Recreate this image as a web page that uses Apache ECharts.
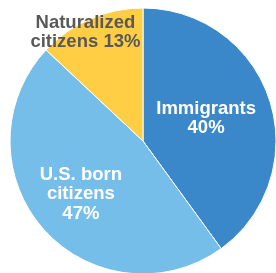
<!DOCTYPE html>
<html><head><meta charset="utf-8">
<script src="https://cdn.jsdelivr.net/npm/echarts@6/dist/echarts.min.js"></script>
<style>html,body{margin:0;padding:0;background:#fff}#c{width:276px;height:273px}</style>
</head><body><div id="c"></div>
<script>
const categories = ['Immigrants', 'U.S. born\ncitizens', 'Naturalized\ncitizens'];
const values = [40, 47, 13];
const colors = ['#3A88C9', '#75BEE9', '#FFCE44'];
const labelColors = ['#ffffff', '#ffffff', '#595959'];
const labelShift = [[-3, -1], [-10, 7], [-30, -45]];

const chart = echarts.init(document.getElementById('c'));
chart.setOption({
  animation: false,
  series: [{
    type: 'pie',
    center: [143, 141],
    radius: [0, 133],
    startAngle: 90,
    clockwise: true,
    itemStyle: { borderColor: '#ffffff', borderWidth: 1 },
    label: {
      show: true,
      position: 'inside',
      fontFamily: 'Liberation Sans, Arial, sans-serif',
      fontWeight: 'bold',
      fontSize: 18.5,
      lineHeight: 19.5,
      align: 'center'
    },
    labelLine: { show: false },
    labelLayout: function (p) {
      return { dx: labelShift[p.dataIndex][0], dy: labelShift[p.dataIndex][1] };
    },
    data: categories.map((c, i) => ({
      name: c,
      value: values[i],
      itemStyle: { color: colors[i] },
      label: {
        color: labelColors[i],
        formatter: i === 2 ? c + ' ' + values[i] + '%' : c + '\n' + values[i] + '%'
      }
    }))
  }]
});
</script></body></html>
